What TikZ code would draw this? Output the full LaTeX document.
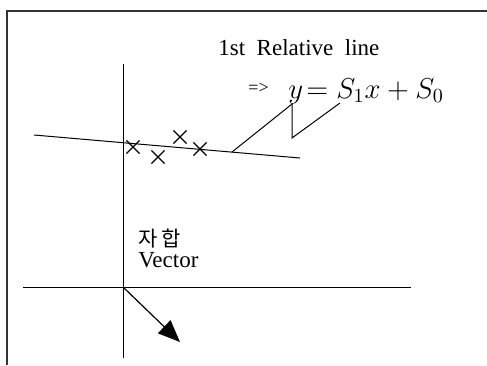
\documentclass[tikz,border=0pt]{standalone}
\usepackage{fontspec}
\setmainfont{Liberation Serif}
\newfontfamily\krfont{Noto Sans CJK KR}
\usetikzlibrary{arrows.meta,shapes.misc}

\begin{document}
\begin{tikzpicture}[x=0.5pt, y=-0.5pt,
  frame/.style={line width=1pt, draw=black!80},
  axis/.style={line width=0.5pt},
  xmark/.style={cross out, draw, line width=0.6pt, minimum size=6pt, inner sep=0pt},
  txt/.style={inner sep=0pt, anchor=base west, font=\fontsize{11.5}{13}\selectfont},
  vec/.style={-{Triangle[length=11pt,width=9pt]}, line width=0.6pt},
]
  \useasboundingbox (0,0) rectangle (487,365);
  \draw[frame] (7,365) -- (7,11) -- (487,11);

  % axes
  \coordinate (o) at (123,287);
  \coordinate (ytop) at (123,64);
  \coordinate (ybot) at (123,358);
  \coordinate (xl) at (23,287);
  \coordinate (xr) at (411,287);
  \draw[axis] (ytop) -- (ybot);
  \draw[axis] (xl) -- (xr);

  % relative line and samples
  \coordinate (rl1) at (34,135);
  \coordinate (rl2) at (300,158);
  \draw[axis] (rl1) -- coordinate[pos=0.744] (zz) (rl2);
  \foreach \x/\y [count=\i] in {133/147, 158/157, 180/137, 200/149}
    \node[xmark] (c\i) at (\x,\y) {};

  % labels
  \node[txt] (rel) at (218,55) {1st\ \ Relative\ \ line};
  \node[txt, font=\fontsize{9}{11}\selectfont] (imp) at (248,93) {=>};
  \node[txt, font=\fontsize{14.5}{16}\selectfont] (eq) at (288,98) {$y\!=S_1x+S_0$};
  \coordinate (zb) at (292,104);
  \coordinate (zc) at (292,138);
  \coordinate (zd) at (340,103);
  \draw[axis] (zz) -- (zb) -- (zc) -- (zd);

  \node[txt, font=\krfont\fontsize{10.5}{12}\selectfont] (kr) at (138,246) {자\,합};
  \node[txt] (vec) at (138,267) {Vector};
  \coordinate (tip) at (180,342);
  \draw[vec] (o) -- (tip);
\end{tikzpicture}
\end{document}
